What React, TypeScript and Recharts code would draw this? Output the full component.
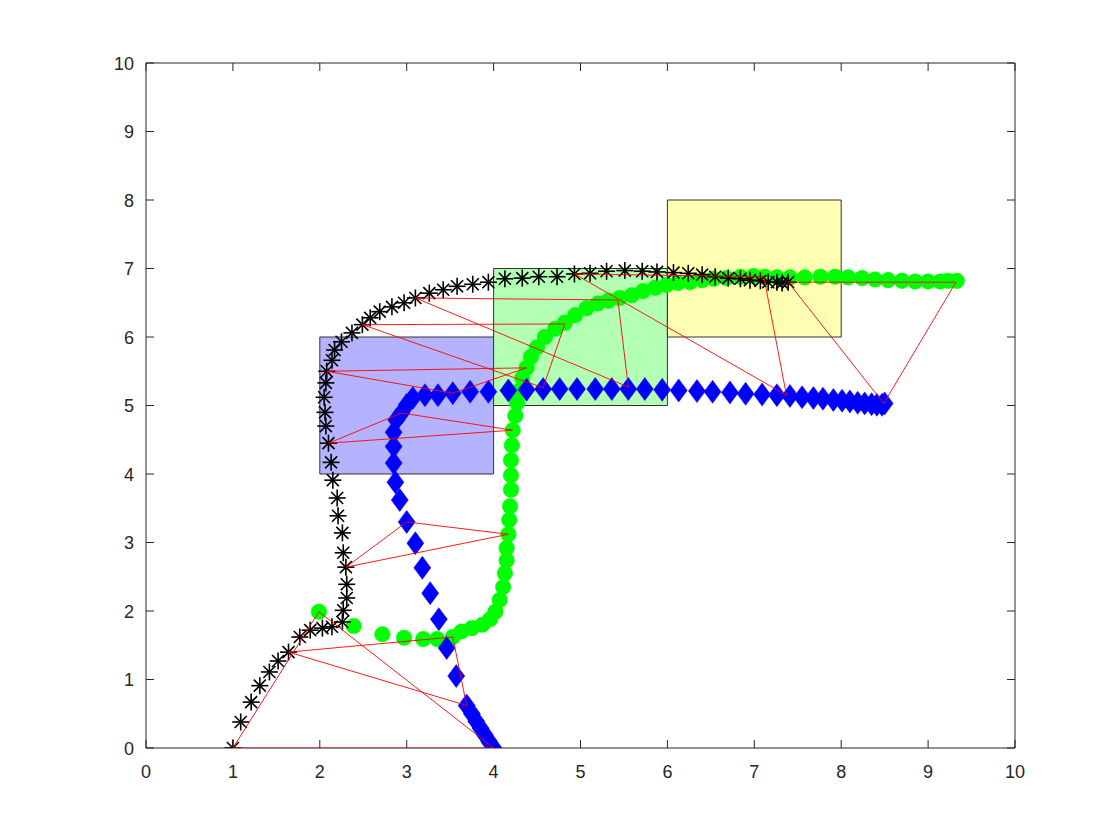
import React from 'react';
import { ScatterChart, Scatter, XAxis, YAxis, ReferenceArea } from 'recharts';

const axisTicks = [0, 1, 2, 3, 4, 5, 6, 7, 8, 9, 10];

const blackPts = [
  { x: 1.0, y: 0.0 }, { x: 1.09, y: 0.38 }, { x: 1.21, y: 0.67 }, { x: 1.31, y: 0.91 }, { x: 1.42, y: 1.11 },
  { x: 1.52, y: 1.27 }, { x: 1.64, y: 1.40 }, { x: 1.77, y: 1.62 }, { x: 1.89, y: 1.72 }, { x: 2.03, y: 1.75 },
  { x: 2.14, y: 1.77 }, { x: 2.26, y: 1.84 }, { x: 2.27, y: 2.01 }, { x: 2.31, y: 2.19 }, { x: 2.31, y: 2.39 },
  { x: 2.30, y: 2.64 }, { x: 2.27, y: 2.85 }, { x: 2.26, y: 3.14 }, { x: 2.21, y: 3.39 }, { x: 2.20, y: 3.65 },
  { x: 2.15, y: 3.91 }, { x: 2.13, y: 4.17 }, { x: 2.10, y: 4.45 }, { x: 2.07, y: 4.70 }, { x: 2.06, y: 4.90 },
  { x: 2.05, y: 5.12 }, { x: 2.07, y: 5.33 }, { x: 2.08, y: 5.50 }, { x: 2.14, y: 5.66 }, { x: 2.17, y: 5.81 },
  { x: 2.25, y: 5.93 }, { x: 2.37, y: 6.06 }, { x: 2.49, y: 6.18 }, { x: 2.58, y: 6.28 }, { x: 2.69, y: 6.37 },
  { x: 2.83, y: 6.44 }, { x: 2.97, y: 6.50 }, { x: 3.10, y: 6.57 }, { x: 3.26, y: 6.64 }, { x: 3.42, y: 6.69 },
  { x: 3.58, y: 6.74 }, { x: 3.76, y: 6.77 }, { x: 3.94, y: 6.80 }, { x: 4.13, y: 6.85 }, { x: 4.33, y: 6.86 },
  { x: 4.52, y: 6.88 }, { x: 4.73, y: 6.88 }, { x: 4.93, y: 6.92 }, { x: 5.11, y: 6.93 }, { x: 5.30, y: 6.96 },
  { x: 5.51, y: 6.97 }, { x: 5.71, y: 6.96 }, { x: 5.88, y: 6.95 }, { x: 6.07, y: 6.94 }, { x: 6.24, y: 6.93 },
  { x: 6.40, y: 6.91 }, { x: 6.55, y: 6.88 }, { x: 6.70, y: 6.86 }, { x: 6.84, y: 6.85 }, { x: 6.95, y: 6.83 },
  { x: 7.07, y: 6.82 }, { x: 7.16, y: 6.80 }, { x: 7.26, y: 6.80 }, { x: 7.32, y: 6.79 }, { x: 7.39, y: 6.80 },
];

const bluePts = [
  { x: 4.0, y: 0.0 }, { x: 3.95, y: 0.09 }, { x: 3.90, y: 0.19 }, { x: 3.85, y: 0.29 }, { x: 3.80, y: 0.39 },
  { x: 3.75, y: 0.50 }, { x: 3.69, y: 0.62 }, { x: 3.57, y: 1.05 }, { x: 3.46, y: 1.46 }, { x: 3.37, y: 1.88 },
  { x: 3.27, y: 2.26 }, { x: 3.18, y: 2.63 }, { x: 3.10, y: 2.99 }, { x: 3.00, y: 3.30 }, { x: 2.92, y: 3.62 },
  { x: 2.87, y: 3.88 }, { x: 2.85, y: 4.16 }, { x: 2.85, y: 4.40 }, { x: 2.85, y: 4.61 }, { x: 2.88, y: 4.79 },
  { x: 2.94, y: 4.89 }, { x: 3.00, y: 5.01 }, { x: 3.07, y: 5.11 }, { x: 3.21, y: 5.15 }, { x: 3.36, y: 5.15 },
  { x: 3.53, y: 5.18 }, { x: 3.73, y: 5.20 }, { x: 3.94, y: 5.20 }, { x: 4.17, y: 5.22 }, { x: 4.38, y: 5.23 },
  { x: 4.57, y: 5.24 }, { x: 4.76, y: 5.24 }, { x: 4.96, y: 5.24 }, { x: 5.17, y: 5.24 }, { x: 5.36, y: 5.24 },
  { x: 5.55, y: 5.24 }, { x: 5.74, y: 5.24 }, { x: 5.94, y: 5.23 }, { x: 6.13, y: 5.22 }, { x: 6.34, y: 5.21 },
  { x: 6.52, y: 5.20 }, { x: 6.72, y: 5.19 }, { x: 6.90, y: 5.17 }, { x: 7.09, y: 5.16 }, { x: 7.26, y: 5.15 },
  { x: 7.41, y: 5.14 }, { x: 7.55, y: 5.12 }, { x: 7.68, y: 5.11 }, { x: 7.79, y: 5.10 }, { x: 7.91, y: 5.08 },
  { x: 8.01, y: 5.07 }, { x: 8.10, y: 5.06 }, { x: 8.19, y: 5.04 }, { x: 8.27, y: 5.03 }, { x: 8.35, y: 5.02 },
  { x: 8.41, y: 5.01 }, { x: 8.47, y: 5.01 }, { x: 8.50, y: 5.03 },
];

const greenPts = [
  { x: 1.99, y: 1.99 }, { x: 2.39, y: 1.78 }, { x: 2.72, y: 1.66 }, { x: 2.97, y: 1.61 }, { x: 3.19, y: 1.59 },
  { x: 3.35, y: 1.59 }, { x: 3.53, y: 1.62 }, { x: 3.63, y: 1.70 }, { x: 3.75, y: 1.75 }, { x: 3.87, y: 1.80 },
  { x: 3.96, y: 1.88 }, { x: 4.02, y: 1.99 }, { x: 4.07, y: 2.16 }, { x: 4.11, y: 2.35 }, { x: 4.13, y: 2.55 },
  { x: 4.15, y: 2.74 }, { x: 4.15, y: 2.92 }, { x: 4.17, y: 3.12 }, { x: 4.18, y: 3.33 }, { x: 4.19, y: 3.53 },
  { x: 4.20, y: 3.77 }, { x: 4.20, y: 3.98 }, { x: 4.20, y: 4.20 }, { x: 4.21, y: 4.42 }, { x: 4.22, y: 4.64 },
  { x: 4.25, y: 4.85 }, { x: 4.27, y: 5.04 }, { x: 4.30, y: 5.22 }, { x: 4.33, y: 5.40 }, { x: 4.38, y: 5.55 },
  { x: 4.43, y: 5.71 }, { x: 4.50, y: 5.85 }, { x: 4.59, y: 6.00 }, { x: 4.71, y: 6.12 }, { x: 4.82, y: 6.21 },
  { x: 4.94, y: 6.32 }, { x: 5.07, y: 6.42 }, { x: 5.20, y: 6.49 }, { x: 5.32, y: 6.53 }, { x: 5.45, y: 6.57 },
  { x: 5.59, y: 6.61 }, { x: 5.72, y: 6.67 }, { x: 5.86, y: 6.72 }, { x: 5.99, y: 6.76 }, { x: 6.12, y: 6.79 },
  { x: 6.26, y: 6.80 }, { x: 6.40, y: 6.83 }, { x: 6.53, y: 6.85 }, { x: 6.68, y: 6.86 }, { x: 6.84, y: 6.88 },
  { x: 6.99, y: 6.89 }, { x: 7.12, y: 6.88 }, { x: 7.26, y: 6.87 }, { x: 7.41, y: 6.87 }, { x: 7.58, y: 6.87 },
  { x: 7.76, y: 6.88 }, { x: 7.93, y: 6.88 }, { x: 8.08, y: 6.87 }, { x: 8.24, y: 6.86 }, { x: 8.39, y: 6.84 },
  { x: 8.54, y: 6.83 }, { x: 8.70, y: 6.82 }, { x: 8.85, y: 6.81 }, { x: 9.00, y: 6.81 }, { x: 9.14, y: 6.81 },
  { x: 9.23, y: 6.82 }, { x: 9.33, y: 6.82 },
];

// vertices of the red triangles (one per snapshot)
const triBlack = [
  { x: 1.0, y: 0.0 }, { x: 1.64, y: 1.40 }, { x: 2.30, y: 2.64 }, { x: 2.10, y: 4.45 }, { x: 2.08, y: 5.50 },
  { x: 2.49, y: 6.18 }, { x: 3.10, y: 6.57 }, { x: 4.93, y: 6.92 }, { x: 7.39, y: 6.80 },
];
const triBlue = [
  { x: 4.0, y: 0.0 }, { x: 3.69, y: 0.62 }, { x: 3.00, y: 3.30 }, { x: 2.94, y: 4.89 }, { x: 3.53, y: 5.18 },
  { x: 4.57, y: 5.26 }, { x: 5.55, y: 5.27 }, { x: 7.37, y: 5.15 }, { x: 8.49, y: 5.03 },
];
const triGreen = [
  { x: 1.99, y: 1.99 }, { x: 3.53, y: 1.62 }, { x: 4.17, y: 3.12 }, { x: 4.22, y: 4.64 }, { x: 4.38, y: 5.55 },
  { x: 4.82, y: 6.19 }, { x: 5.43, y: 6.54 }, { x: 7.11, y: 6.88 }, { x: 9.32, y: 6.80 },
];

const boxes = [
  { x1: 2, x2: 4, y1: 4, y2: 6, fill: '#b3b3ff' },
  { x1: 4, x2: 6, y1: 5, y2: 7, fill: '#b3ffb3' },
  { x1: 6, x2: 8, y1: 6, y2: 8, fill: '#ffffb3' },
];

const triangles = triBlack.map((b, i) => [b, triBlue[i], triGreen[i], b]);

const AXIS_COLOR = '#262626';
const FONT = 'Liberation Sans, Arial, Helvetica, sans-serif';
const TICK_LEN = 8;

const Asterisk = (props: any) => {
  const { cx, cy } = props;
  if (cx == null || cy == null) return <g />;
  const r = 8.5;
  const d = r * 0.7071;
  return (
    <g stroke="#000" strokeWidth={1.6} fill="none">
      <line x1={cx - r} y1={cy} x2={cx + r} y2={cy} />
      <line x1={cx} y1={cy - r} x2={cx} y2={cy + r} />
      <line x1={cx - d} y1={cy - d} x2={cx + d} y2={cy + d} />
      <line x1={cx - d} y1={cy + d} x2={cx + d} y2={cy - d} />
    </g>
  );
};

const Diamond = (props: any) => {
  const { cx, cy } = props;
  if (cx == null || cy == null) return <g />;
  const w = 8.5;
  const h = 11.5;
  return (
    <path d={`M${cx},${cy - h} L${cx + w},${cy} L${cx},${cy + h} L${cx - w},${cy} Z`} fill="#0000ff" stroke="#0000ff" strokeWidth={0.5} />
  );
};

const Circle = (props: any) => {
  const { cx, cy } = props;
  if (cx == null || cy == null) return <g />;
  return <circle cx={cx} cy={cy} r={7.8} fill="#00ff00" stroke="#00ff00" strokeWidth={0.5} />;
};

const NoMark = () => <g />;

const BottomTick = (props: any) => {
  const { x, y, payload } = props;
  return (
    <g>
      <line x1={x} y1={y} x2={x} y2={y - TICK_LEN} stroke={AXIS_COLOR} strokeWidth={1} />
      <text x={x} y={y + 30} textAnchor="middle" fill={AXIS_COLOR} fontSize={18} fontFamily={FONT}>
        {payload.value}
      </text>
    </g>
  );
};

const LeftTick = (props: any) => {
  const { x, y, payload } = props;
  return (
    <g>
      <line x1={x} y1={y} x2={x + TICK_LEN} y2={y} stroke={AXIS_COLOR} strokeWidth={1} />
      <text x={x - 12} y={y + 6.5} textAnchor="end" fill={AXIS_COLOR} fontSize={18} fontFamily={FONT}>
        {payload.value}
      </text>
    </g>
  );
};

const TopTick = (props: any) => {
  const { x, y } = props;
  return <line x1={x} y1={y} x2={x} y2={y + TICK_LEN} stroke={AXIS_COLOR} strokeWidth={1} />;
};

const RightTick = (props: any) => {
  const { x, y } = props;
  return <line x1={x} y1={y} x2={x - TICK_LEN} y2={y} stroke={AXIS_COLOR} strokeWidth={1} />;
};

export default function App() {
  return (
    <div style={{ position: 'absolute', left: 0, top: 0, width: 1120, height: 840, background: '#fff' }}>
      <ScatterChart width={1120} height={840} margin={{ top: 33, right: 75, bottom: 62, left: 106 }}>
        <XAxis
          xAxisId={0}
          type="number"
          dataKey="x"
          domain={[0, 10]}
          ticks={axisTicks}
          interval={0}
          tickSize={0}
          tickMargin={0}
          tickLine={false}
          height={30}
          axisLine={{ stroke: AXIS_COLOR }}
          tick={<BottomTick />}
          allowDataOverflow
        />
        <XAxis
          xAxisId="top"
          orientation="top"
          type="number"
          dataKey="x"
          domain={[0, 10]}
          ticks={axisTicks}
          interval={0}
          tickSize={0}
          tickMargin={0}
          tickLine={false}
          height={30}
          axisLine={{ stroke: AXIS_COLOR }}
          tick={<TopTick />}
          allowDataOverflow
        />
        <YAxis
          yAxisId={0}
          type="number"
          dataKey="y"
          domain={[0, 10]}
          ticks={axisTicks}
          interval={0}
          tickSize={0}
          tickMargin={0}
          tickLine={false}
          width={40}
          axisLine={{ stroke: AXIS_COLOR }}
          tick={<LeftTick />}
          allowDataOverflow
        />
        <YAxis
          yAxisId="right"
          orientation="right"
          type="number"
          dataKey="y"
          domain={[0, 10]}
          ticks={axisTicks}
          interval={0}
          tickSize={0}
          tickMargin={0}
          tickLine={false}
          width={30}
          axisLine={{ stroke: AXIS_COLOR }}
          tick={<RightTick />}
          allowDataOverflow
        />
        {boxes.map((b, i) => (
          <ReferenceArea
            key={`box${i}`}
            xAxisId={0}
            yAxisId={0}
            x1={b.x1}
            x2={b.x2}
            y1={b.y1}
            y2={b.y2}
            fill={b.fill}
            fillOpacity={1}
            stroke="#333"
            strokeWidth={1}
            ifOverflow="visible"
          />
        ))}
        <Scatter name="green" data={greenPts} shape={<Circle />} isAnimationActive={false} xAxisId={0} yAxisId={0} />
        <Scatter name="blue" data={bluePts} shape={<Diamond />} isAnimationActive={false} xAxisId={0} yAxisId={0} />
        <Scatter name="black" data={blackPts} shape={<Asterisk />} isAnimationActive={false} xAxisId={0} yAxisId={0} />
        {triangles.map((t, i) => (
          <Scatter
            key={`tri${i}`}
            data={t}
            line={{ stroke: '#ff0000', strokeWidth: 0.9 }}
            lineType="joint"
            shape={<NoMark />}
            isAnimationActive={false}
            xAxisId={0}
            yAxisId={0}
          />
        ))}
      </ScatterChart>
    </div>
  );
}
